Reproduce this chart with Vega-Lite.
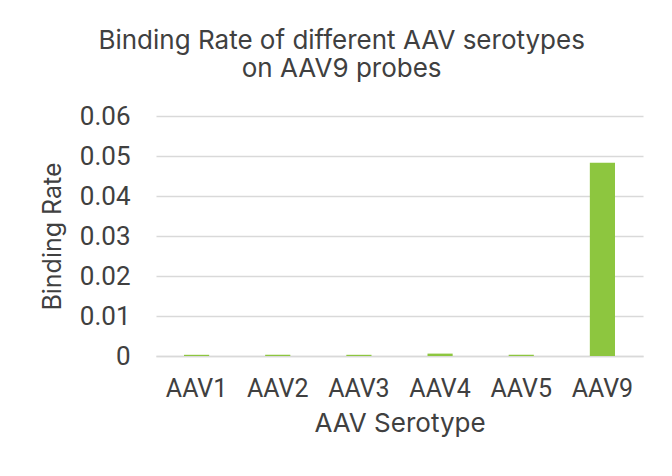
{
  "$schema": "https://vega.github.io/schema/vega-lite/v6.json",
  "width": 487,
  "height": 240,
  "padding": {"left": 40, "top": 28, "right": 27, "bottom": 30},
  "background": "white",
  "title": {
    "text": ["Binding Rate of different AAV serotypes", "on AAV9 probes"],
    "font": "Inter",
    "fontSize": 26,
    "fontWeight": "normal",
    "color": "#404040",
    "lineHeight": 28,
    "anchor": "middle",
    "frame": "bounds",
    "offset": 21
  },
  "data": {
    "values": [
      {"serotype": "AAV1", "rate": 0.0003},
      {"serotype": "AAV2", "rate": 0.0003},
      {"serotype": "AAV3", "rate": 0.0003},
      {"serotype": "AAV4", "rate": 0.0006},
      {"serotype": "AAV5", "rate": 0.0003},
      {"serotype": "AAV9", "rate": 0.0483}
    ]
  },
  "mark": {"type": "bar", "color": "#8DC63F"},
  "encoding": {
    "x": {
      "field": "serotype",
      "type": "nominal",
      "sort": null,
      "scale": {"paddingInner": 0.69, "paddingOuter": 0.345},
      "axis": {
        "title": "AAV Serotype",
        "labelAngle": 0,
        "labelFont": "Roboto",
        "labelFontSize": 25,
        "labelColor": "#404040",
        "labelPadding": 20,
        "ticks": false,
        "domain": true,
        "domainColor": "#d9d9d9",
        "domainWidth": 1.5,
        "titleFont": "Inter",
        "titleFontSize": 26,
        "titleFontWeight": "normal",
        "titleColor": "#404040",
        "titlePadding": 9
      }
    },
    "y": {
      "field": "rate",
      "type": "quantitative",
      "scale": {"domain": [0, 0.06]},
      "axis": {
        "title": "Binding Rate",
        "values": [0, 0.01, 0.02, 0.03, 0.04, 0.05, 0.06],
        "format": "~g",
        "labelFont": "Roboto",
        "labelFontSize": 26,
        "labelColor": "#404040",
        "labelPadding": 26,
        "ticks": false,
        "domain": false,
        "grid": true,
        "gridColor": "#d9d9d9",
        "gridWidth": 1.5,
        "titleFont": "Inter",
        "titleFontSize": 25,
        "titleFontWeight": "normal",
        "titleColor": "#404040",
        "titlePadding": 14
      }
    }
  },
  "config": {"view": {"stroke": null}}
}
